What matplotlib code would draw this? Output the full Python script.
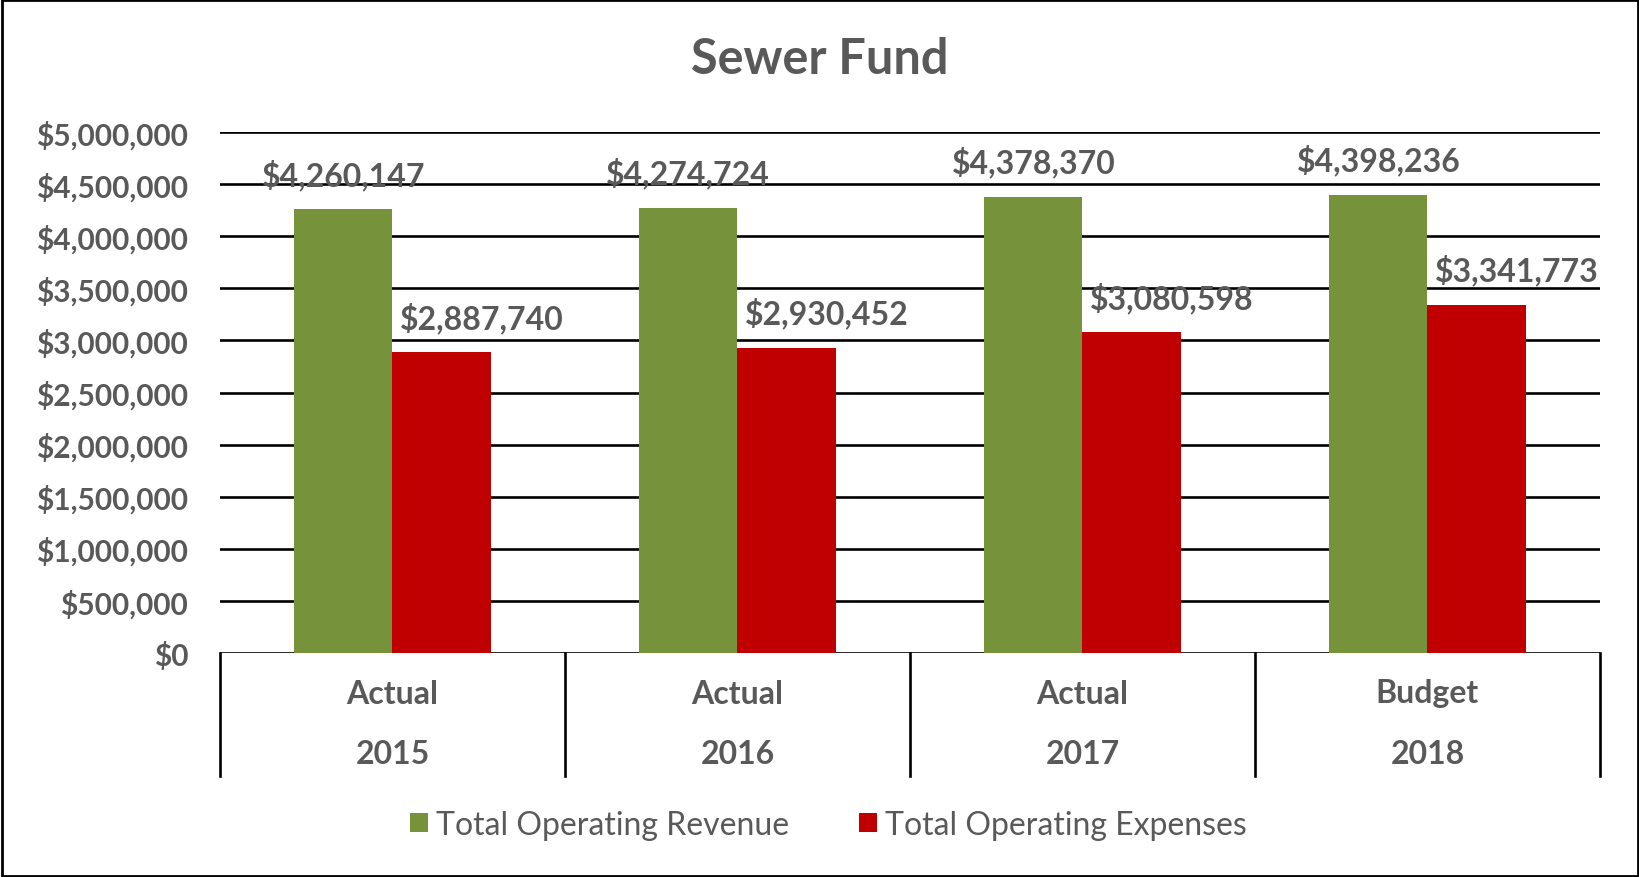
import matplotlib
matplotlib.use("Agg")
import matplotlib.pyplot as plt
from matplotlib.patches import Rectangle
from matplotlib.ticker import FuncFormatter
import numpy as np

# data
kinds = ["Actual", "Actual", "Actual", "Budget"]
years = ["2015", "2016", "2017", "2018"]
revenue = [4260147, 4274724, 4378370, 4398236]
expenses = [2887740, 2930452, 3080598, 3341773]

GREEN = "#76933C"
RED = "#C00000"
GREY = "#595959"

plt.rcParams['font.family'] = ['Lato', 'DejaVu Sans']

fig = plt.figure(figsize=(16.4, 8.78), dpi=100)
ax = fig.add_axes([220 / 1640, 1 - 654 / 878, 1380 / 1640, 521 / 878])

x = np.arange(len(years))
w = 0.285
b1 = ax.bar(x - w / 2, revenue, w, color=GREEN, label="Total Operating Revenue", zorder=3)
b2 = ax.bar(x + w / 2, expenses, w, color=RED, label="Total Operating Expenses", zorder=3)

ax.set_xlim(-0.5, len(years) - 0.5)
ax.set_ylim(0, 5000000)
ax.set_yticks(np.arange(0, 5000001, 500000))
ax.yaxis.set_major_formatter(FuncFormatter(lambda v, p: f"${v:,.0f}"))
ax.tick_params(axis='y', length=0, pad=23, labelsize=21.5, labelcolor=GREY)
for t in ax.get_yticklabels():
    t.set_fontweight('bold')
ax.set_xticks([])
ax.grid(axis='y', color='black', linewidth=1.9, zorder=1)
for s in ax.spines.values():
    s.set_visible(False)

# data labels
for xi, v in zip(x, revenue):
    ax.annotate(f"${v:,}", (xi - w / 2, v), xytext=(0, 35), textcoords='offset pixels',
                ha='center', va='center', fontsize=23, fontweight='bold', color=GREY, zorder=4)
for xi, v in zip(x, expenses):
    ax.annotate(f"${v:,}", (xi + w / 2, v), xytext=(40, 35), textcoords='offset pixels',
                ha='center', va='center', fontsize=23, fontweight='bold', color=GREY, zorder=4)

# category axis with separators
trans = ax.get_xaxis_transform()
sep_bottom = -(777 - 654) / 521
for b in np.arange(-0.5, len(years), 1.0):
    ax.plot([b, b], [0, sep_bottom], transform=trans, color='black', linewidth=1.9, clip_on=False)
for xi, k, yr in zip(x, kinds, years):
    ax.text(xi, -(694 - 654) / 521, k, transform=trans, ha='center', va='center',
            fontsize=23, fontweight='bold', color=GREY)
    ax.text(xi, -(755 - 654) / 521, yr, transform=trans, ha='center', va='center',
            fontsize=23, fontweight='bold', color=GREY)

fig.text(0.5, 1 - 60 / 878, "Sewer Fund", ha='center', va='center',
         fontsize=35, fontweight='bold', color=GREY)

fig.legend(handles=[b1, b2], loc='center', bbox_to_anchor=(0.505, 1 - 826 / 878), ncol=2,
           frameon=False, fontsize=23, labelcolor=GREY, handlelength=0.55, handleheight=0.55,
           handletextpad=0.25, columnspacing=2.2)

fig.patches.append(Rectangle((0.001, 0.001), 0.998, 0.998, transform=fig.transFigure,
                             fill=False, edgecolor='black', linewidth=2))

fig.savefig("out.png", dpi=100)
